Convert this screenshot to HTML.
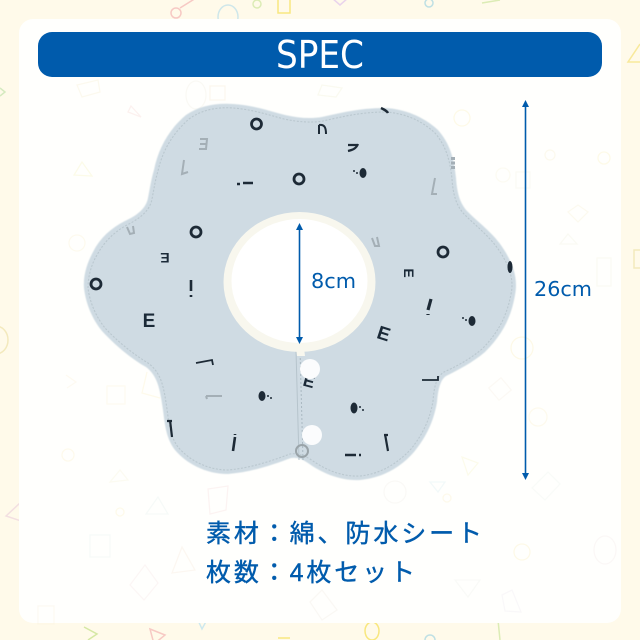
<!DOCTYPE html>
<html lang="ja">
<head>
<meta charset="utf-8">
<style>
html,body{margin:0;padding:0;background:#fffbec}
svg{display:block}
text{font-family:"Liberation Sans","Noto Sans CJK JP",sans-serif}
.p{font-weight:700;fill:#1b2a38;text-anchor:middle}
</style>
</head>
<body>
<svg width="640" height="640" viewBox="0 0 640 640" xmlns="http://www.w3.org/2000/svg">
<defs>
<filter id="b" x="-5%" y="-5%" width="110%" height="110%"><feGaussianBlur stdDeviation="0.45"/></filter>
</defs>
<rect width="640" height="640" fill="#fffaea"/>
<!-- outer border shapes -->
<g fill="none" stroke-width="1.5">
<circle cx="176" cy="13" r="5" stroke="#f7c9c4"/>
<path d="M180 8L196 -2" stroke="#f7c9c4"/>
<ellipse cx="228" cy="17" rx="10" ry="12" stroke="#cfe7ea"/>
<circle cx="257" cy="4" r="4" stroke="#dcecb5"/>
<rect x="278" y="-6" width="12" height="19" stroke="#f8e77f"/>
<path d="M332 -2L340 5L348 -2" stroke="#e9d3ec"/>
<circle cx="429" cy="3" r="4" stroke="#bfe0e4"/>
<path d="M482 3L500 0" stroke="#dcecb5"/>
<path d="M640 44L628 62L640 62" stroke="#f8e99b"/>
<path d="M0 88L5 92L0 96" stroke="#d5eac0"/>
<path d="M6 516L20 503L24 522Z" stroke="#f3dfe1"/>
<path d="M84 627L97 634L88 640" stroke="#d5e8a4"/>
<path d="M150 629L165 635L154 644Z" stroke="#f7c9c4"/>
<path d="M197 618L209 616L202 629Z" stroke="#cde8ee"/>
<ellipse cx="372" cy="631" rx="7" ry="9" stroke="#f8e77f"/>
<path d="M480 622L498 620L500 640" stroke="#dcecb5"/>
<path d="M278 638h12" stroke="#f8e77f"/>
<circle cx="430" cy="640" r="5" stroke="#bfe0e4"/>
<ellipse cx="-4" cy="340" rx="12" ry="14" stroke="#f3e9bd"/>
<rect x="634" y="250" width="14" height="18" stroke="#f3e9bd"/>
</g>
<!-- panel -->
<rect x="19" y="19" width="602" height="604" rx="14" fill="#fffffd"/>
<!-- faint inner shapes -->
<g fill="none" stroke-width="1.3" opacity=".32">
<path d="M77 85L98 80L100 92L82 97Z" stroke="#f6eecf"/>
<rect x="210" y="86" width="15" height="14" stroke="#f6e8d0"/>
<path d="M322 85L342 88L336 97L318 95Z" stroke="#efeed6"/>
<path d="M131 106L141 117L128 112Z" stroke="#f8d6d2"/>
<ellipse cx="196" cy="95" rx="10" ry="14" stroke="#f2efe3"/>
<path d="M74 175L82 162L92 176Z" stroke="#f6f3bf"/>
<circle cx="77" cy="243" r="8" stroke="#faf1d0"/>
<circle cx="462" cy="118" r="8" stroke="#fbeebc"/>
<circle cx="550" cy="155" r="5" stroke="#f6efcf"/>
<circle cx="503" cy="175" r="7" stroke="#f8f3dd"/>
<rect x="516" y="172" width="14" height="16" stroke="#f4f1e4"/>
<path d="M578 205L588 212L578 222L568 212Z" stroke="#f8f0d4"/>
<path d="M568 234L577 244L560 244Z" stroke="#f0f2df"/>
<rect x="597" y="258" width="14" height="28" stroke="#f3f0df"/>
<circle cx="604" cy="158" r="6" stroke="#fbf2bd"/>
<circle cx="522" cy="348" r="11" stroke="#fbeebc"/>
<rect x="492" y="381" width="16" height="16" transform="rotate(-40 500 389)" stroke="#f6eee4"/>
<circle cx="538" cy="417" r="9" stroke="#fbf0cd"/>
<path d="M548 472L560 484L545 500L532 488Z" stroke="#eef3f0"/>
<path d="M462 457L478 463L468 475Z" stroke="#f7f5c8"/>
<rect x="107" y="386" width="18" height="18" stroke="#fdf3d7"/>
<path d="M147 372L142 393L160 398" stroke="#fdf1c6"/>
<path d="M66 375L76 382L67 388" stroke="#fbf1d8"/>
<circle cx="68" cy="455" r="6" stroke="#fdf0cb"/>
<path d="M120 470L128 480L110 482Z" stroke="#f6f3d8"/>
<path d="M208 489L228 486L226 510L210 514Z" stroke="#f6dddd"/>
<path d="M146 514L158 497L168 514Z" stroke="#e6f1ee"/>
<circle cx="120" cy="512" r="4" stroke="#fbf1c4"/>
<rect x="90" y="535" width="20" height="22" stroke="#e4f2ef"/>
<path d="M145 565L158 583L144 600L130 585Z" stroke="#f6e6e6"/>
<rect x="38" y="606" width="16" height="18" stroke="#f7efdc"/>
<path d="M322 590L337 610L322 620L310 602Z" stroke="#efe8e3"/>
<path d="M455 580L480 580L468 597Z" stroke="#eef1ec"/>
<path d="M502 595L512 590L521 612L505 611Z" stroke="#efeaf1"/>
<circle cx="522" cy="552" r="8" stroke="#fbeebc"/>
<circle cx="395" cy="492" r="11" stroke="#f1eee9"/>
<path d="M430 482L445 482L438 492Z" stroke="#d9eef1"/>
<circle cx="447" cy="498" r="4" stroke="#faefc6"/>
<path d="M182 547L195 570L172 573Z" stroke="#f8e8d8"/>
<ellipse cx="605" cy="550" rx="11" ry="14" stroke="#f3e9e9"/>
</g>
<!-- bib -->
<path id="bib" filter="url(#b)" fill="#cfdbe3" d="M84 288C83 276 87 263 93 252C100 238 111 228 125 221C136 216 146 209 148 198C150 188 151 180 154 170C158 150 168 130 186 115C202 104 222 102 243 105C258 107 270 111 285 115C298 118 310 119 322 117C340 113 360 108 385 108C405 109 424 117 438 130C450 144 454 158 456 178C457 193 460 204 468 212C480 224 496 235 506 253C514 267 518 280 515 295C511 318 502 335 485 352C472 363 458 370 446 376C440 380 438 390 437 402C434 420 427 436 414 452C400 468 382 478 360 480C340 481 322 473 308 463C302 459 297 457 291 458C272 465 252 472 228 474C205 474 186 463 175 450C166 438 165 425 163 410C160 390 158 376 146 367C130 358 114 344 102 331C93 320 86 305 84 288Z"/>
<path fill="none" stroke="#aab8c0" stroke-opacity=".55" stroke-width="1.1" stroke-dasharray="2 1.6" d="M88 288C88 277 91 265 97 255C104 242 114 232 127 225C139 219 150 211 152 199C154 189 155 181 158 171C162 152 172 134 189 119C204 108 223 106 242 109C257 111 269 115 284 119C298 122 311 123 323 121C341 117 361 112 385 112C404 113 421 120 435 133C446 146 450 160 452 179C453 194 456 206 465 215C477 227 492 238 502 255C510 268 514 281 511 294C507 316 498 333 482 349C469 360 455 367 444 372C436 377 434 388 433 401C430 419 423 434 411 449C397 464 380 474 360 476C341 477 324 469 310 459C303 455 297 453 290 454C271 461 251 468 228 470C207 470 189 460 178 447C170 436 169 424 167 409C164 389 162 373 148 363C133 354 117 341 105 328C97 318 90 304 88 288Z"/>
<!-- placket -->
<path d="M296 350L299 460" stroke="#b6c4cc" stroke-width="1" fill="none"/>
<path d="M300 350L303 460" stroke="#a9b8c1" stroke-width="1" stroke-dasharray="2 2" fill="none"/>
<!-- print -->
<g stroke="#1d2a36" fill="none" stroke-width="2.8">
<ellipse cx="256.500" cy="124" rx="5" ry="5"/>
<ellipse cx="299" cy="179" rx="5" ry="5"/>
<ellipse cx="196" cy="232" rx="5" ry="5"/>
<ellipse cx="96" cy="284" rx="5" ry="5"/>
<ellipse cx="443" cy="252" rx="5" ry="5"/>
<path d="M319 125C324 124 326 127 326 134M319 125V134" stroke-width="2"/>
<path d="M237 184h3M243 183h10" stroke-width="2.600"/>
<path d="M191 280V291M191 295V297" stroke-width="2.600"/>
<path d="M196 363L212 360L213 365" stroke-width="1.800"/>
<path d="M170 420L172 437M167 421H172" stroke-width="2.200"/>
<path d="M235 437L233 451M235 434V435" stroke-width="2.600"/>
<path d="M431 299L428 310M428 314V315" stroke-width="3.200"/>
<path d="M422 380H438L438 376" stroke-width="1.800"/>
<path d="M385 434L388 451M384 435H388" stroke-width="2.200"/>
<path d="M345 455H356M359 455H361" stroke-width="2.400"/>
<path d="M348 151C352 150 356 149 358 144M348 145H357" stroke-width="2.200"/>
<path d="M381 108C385 110 387 111 388 113" stroke-width="2.400"/>
</g>
<g>
<text class="p" x="149" y="327" font-size="19">E</text>
<text class="p" x="384" y="340" font-size="19" transform="rotate(18 384 333)">E</text>
<text class="p" x="309" y="387" font-size="17" transform="rotate(15 309 381)">E</text>
<text class="p" x="165" y="263" font-size="14" transform="rotate(180 165 258)">E</text>
<text class="p" x="409" y="278" font-size="14" transform="rotate(90 409 273)">E</text>
</g>
<g fill="#1d2a36">
<ellipse cx="363" cy="173" rx="3.500" ry="5"/><circle cx="357" cy="173" r="1"/><circle cx="354" cy="171" r="1"/>
<ellipse cx="262" cy="396" rx="3.500" ry="5"/><circle cx="268" cy="396" r="1"/><circle cx="271" cy="398" r="1"/>
<ellipse cx="472" cy="321" rx="3.500" ry="5"/><circle cx="466" cy="320" r="1"/><circle cx="463" cy="318" r="1"/>
<ellipse cx="354" cy="408" rx="3.500" ry="5.500"/><circle cx="360" cy="407" r="1"/><circle cx="363" cy="410" r="1"/>
<ellipse cx="510" cy="267" rx="2.500" ry="6"/>
</g>
<g stroke="#a4afb6" fill="none" stroke-width="2">
<path d="M200 139H207L206 149H199M200 144H206"/>
<path d="M184 160L182 174L188 172"/>
<path d="M127 227L130 234L134 233L133 226"/>
<path d="M435 178L432 194H437"/>
<path d="M372 238L375 246H379L377 237"/>
<path d="M453 157L453 170" stroke-width="4" stroke-dasharray="3 1.500"/>
<path d="M206 396H222M206 396L207 399"/>
</g>
<!-- neck -->
<ellipse cx="299.500" cy="282" rx="76" ry="70" fill="#f8f7ee"/>
<path d="M296 348H304L305 356L297 356Z" fill="#f8f7ee"/>
<ellipse cx="299.500" cy="281" rx="68" ry="62" fill="#ffffff"/>
<!-- snaps -->
<circle cx="302" cy="451" r="6" fill="none" stroke="#9aa4a9" stroke-width="2"/>
<circle cx="310" cy="369" r="10" fill="#fbfcfd"/>
<circle cx="312" cy="435" r="10" fill="#fbfcfd"/>
<!-- banner -->
<rect x="38" y="32" width="564" height="45" rx="14" fill="#005bac"/>
<text x="276" y="68" font-size="38" fill="#fff" textLength="88" lengthAdjust="spacingAndGlyphs" style="font-family:'DejaVu Sans','Liberation Sans',sans-serif">SPEC</text>
<!-- arrows -->
<g stroke="#005bac" stroke-width="1.600">
<path d="M299.500 228V342"/>
<path d="M525.500 103V477"/>
</g>
<g fill="#005bac">
<path d="M299.500 223L303 230H296Z"/>
<path d="M299.500 344L303 337H296Z"/>
<path d="M525.500 100L529 107H522Z"/>
<path d="M525.500 480L529 473H522Z"/>
</g>
<text x="311" y="288" font-size="20" fill="#005bac" textLength="45" lengthAdjust="spacingAndGlyphs" style="font-family:'DejaVu Sans',sans-serif">8cm</text>
<text x="534" y="296" font-size="20" fill="#005bac" textLength="58" lengthAdjust="spacingAndGlyphs" style="font-family:'DejaVu Sans',sans-serif">26cm</text>
<text x="206" y="542" font-size="25" fill="#005bac" stroke="#005bac" stroke-width=".4" textLength="276" lengthAdjust="spacing">素材：綿、防水シート</text>
<text x="206" y="581" font-size="25" fill="#005bac" stroke="#005bac" stroke-width=".4" textLength="209" lengthAdjust="spacing">枚数：4枚セット</text>
</svg>
</body>
</html>
